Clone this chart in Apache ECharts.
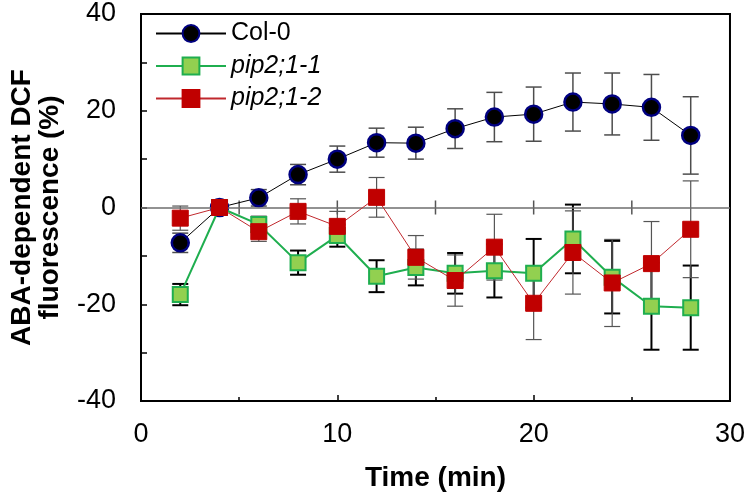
<!DOCTYPE html>
<html>
<head>
    <meta charset="utf-8">
    <title>ABA-dependent DCF fluorescence</title>
    <script src="https://cdn.jsdelivr.net/npm/echarts@6/dist/echarts.min.js"></script>
    <style>
        html, body { margin: 0; padding: 0; background: #fff; }
    </style>
</head>
<body>
<div id="main" style="width: 748px;height:499px;"></div>
<script>
    // time points (min)
    var time = [2, 4, 6, 8, 10, 12, 14, 16, 18, 20, 22, 24, 26, 28];

    // Col-0
    var col0 = [-7.3, 0, 2.0, 6.8, 10.0, 13.4, 13.3, 16.3, 18.7, 19.3, 21.8, 21.4, 20.7, 14.9];
    var col0Err = [2.0, 0, 1.7, 2.1, 2.7, 3.0, 3.3, 4.1, 5.1, 5.6, 6.0, 6.4, 6.8, 8.0];

    // pip2;1-1
    var pip11 = [-18.0, 0, -3.5, -11.4, -5.8, -14.2, -12.4, -13.6, -13.1, -13.6, -6.5, -14.4, -20.4, -20.7];
    var pip11Err = [2.2, 0, 1.6, 2.5, 2.3, 3.3, 3.7, 4.2, 5.5, 7.1, 7.1, 7.5, 9.0, 8.7];

    // pip2;1-2
    var pip12 = [-2.2, 0, -5.0, -0.8, -3.9, 2.1, -10.3, -15.1, -8.2, -19.8, -9.3, -15.6, -11.6, -4.5];
    var pip12Err = [2.5, 0, 2.0, 2.6, 3.1, 4.1, 4.5, 5.3, 6.8, 7.5, 8.6, 9.0, 8.7, 10.0];

    var yTicks = [-40, -20, 0, 20, 40];
    var xTicks = [0, 10, 20, 30];
    var zeroTicks = [5, 10, 15, 20, 25];   // ticks on the y = 0 reference line

    var font = '"Liberation Sans", Arial, sans-serif';

    function points(vals) {
        return time.map(function (t, i) { return [t, vals[i]]; });
    }

    function errData(vals, errs) {
        var out = [];
        time.forEach(function (t, i) {
            if (errs[i] > 0) out.push([t, vals[i] - errs[i], vals[i] + errs[i]]);
        });
        return out;
    }

    // vertical bar between two y values, with optional caps
    function errBar(color, width, capHalf) {
        return function (params, api) {
            var x = api.value(0);
            var lo = api.coord([x, api.value(1)]);
            var hi = api.coord([x, api.value(2)]);
            var h = capHalf;
            var st = {stroke: color, lineWidth: width};
            var kids = [{type: 'line', shape: {x1: lo[0], y1: lo[1], x2: hi[0], y2: hi[1]}, style: st}];
            if (h > 0) {
                kids.push({type: 'line', shape: {x1: lo[0] - h, y1: lo[1], x2: lo[0] + h, y2: lo[1]}, style: st});
                kids.push({type: 'line', shape: {x1: hi[0] - h, y1: hi[1], x2: hi[0] + h, y2: hi[1]}, style: st});
            }
            return {type: 'group', children: kids};
        };
    }

    var myChart = echarts.init(document.getElementById('main'));

    myChart.setOption({
        animation: false,
        grid: {
            left: 139, right: 17, top: 14, bottom: 98,
            show: true, borderColor: '#000', borderWidth: 2
        },
        legend: {
            orient: 'vertical',
            left: 155,
            top: 21,
            padding: 0,
            itemWidth: 70,
            itemHeight: 21,
            itemGap: 7.5,
            data: ['Col-0', 'pip2;1-1', 'pip2;1-2'],
            formatter: function (name) {
                return name === 'Col-0' ? name : '{it|' + name + '}';
            },
            textStyle: {
                fontFamily: font, fontSize: 25, color: '#000',
                rich: {it: {fontFamily: font, fontSize: 25, fontStyle: 'italic', color: '#000'}}
            }
        },
        xAxis: {
            type: 'value', min: 0, max: 30, interval: 10,
            name: 'Time (min)', nameLocation: 'middle', nameGap: 63,
            nameTextStyle: {fontFamily: font, fontSize: 28, fontWeight: 'bold', color: '#000'},
            axisLine: {onZero: false, lineStyle: {color: '#000', width: 2}},
            axisTick: {inside: true, length: 6, lineStyle: {color: '#000', width: 1.5}},
            minorTick: {show: true, splitNumber: 2, length: 4, lineStyle: {color: '#000', width: 1.5}},
            axisLabel: {
                margin: 20, fontFamily: font, fontSize: 27, color: '#000',
                customValues: xTicks
            },
            splitLine: {show: false}
        },
        yAxis: {
            type: 'value', min: -40, max: 40, interval: 20,
            name: 'ABA-dependent DCF\nfluorescence (%)', nameLocation: 'middle', nameGap: 77,
            nameTextStyle: {fontFamily: font, fontSize: 28, fontWeight: 'bold', color: '#000', lineHeight: 28},
            axisLine: {onZero: false, lineStyle: {color: '#000', width: 2}},
            axisTick: {inside: true, length: 6, lineStyle: {color: '#000', width: 1.5}},
            minorTick: {show: true, splitNumber: 2, length: 6, lineStyle: {color: '#000', width: 1.5}},
            axisLabel: {
                margin: 25, fontFamily: font, fontSize: 27, color: '#000',
                customValues: yTicks
            },
            splitLine: {show: false}
        },
        series: [
            {
                // zero reference line with short cross ticks
                type: 'custom', name: 'zeroTicks', z: 2, silent: true,
                renderItem: errBar('#555', 1.5, 0),
                encode: {x: 0, y: [1, 2]},
                data: zeroTicks.map(function (t) { return [t, -1.45, 1.45]; }),
                markLine: {
                    silent: true, symbol: 'none', animation: false,
                    label: {show: false},
                    lineStyle: {color: '#6e6e6e', width: 1.5, type: 'solid'},
                    data: [{yAxis: 0}]
                }
            },
            {
                type: 'custom', name: 'err0', z: 2, silent: true,
                renderItem: errBar('#4d4d4d', 1.5, 8),
                encode: {x: 0, y: [1, 2]},
                data: errData(col0, col0Err)
            },
            {
                type: 'custom', name: 'err1', z: 2, silent: true,
                renderItem: errBar('#000', 2, 8),
                encode: {x: 0, y: [1, 2]},
                data: errData(pip11, pip11Err)
            },
            {
                type: 'custom', name: 'err2', z: 2, silent: true,
                renderItem: errBar('#555', 1.2, 8),
                encode: {x: 0, y: [1, 2]},
                data: errData(pip12, pip12Err)
            },
            {
                name: 'Col-0', type: 'line', z: 3,
                data: points(col0),
                symbol: 'circle', symbolSize: 17,
                itemStyle: {color: '#000', borderColor: '#000080', borderWidth: 2.5},
                lineStyle: {color: '#000', width: 1}
            },
            {
                name: 'pip2;1-1', type: 'line', z: 4,
                data: points(pip11),
                symbol: 'rect', symbolSize: 15,
                itemStyle: {color: '#92d050', borderColor: '#1fae4f', borderWidth: 2},
                lineStyle: {color: '#1fae4f', width: 2}
            },
            {
                name: 'pip2;1-2', type: 'line', z: 5,
                data: points(pip12),
                symbol: 'rect', symbolSize: 16,
                itemStyle: {color: '#c00000', borderColor: '#c00000', borderWidth: 1},
                lineStyle: {color: '#c0282d', width: 1}
            }
        ]
    });
</script>
</body>
</html>
